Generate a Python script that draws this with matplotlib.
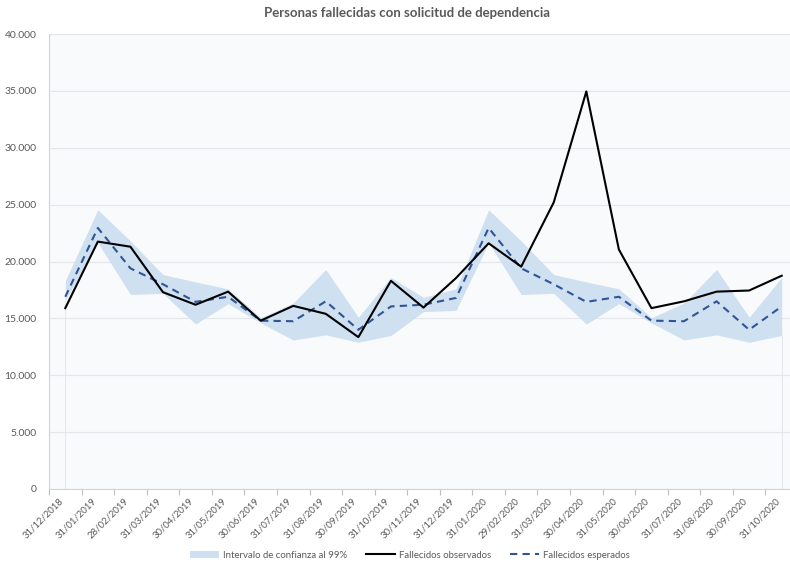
import matplotlib
matplotlib.use("Agg")
import matplotlib.pyplot as plt
from matplotlib.ticker import FuncFormatter, MultipleLocator
import numpy as np

plt.rcParams['font.family'] = ['Lato', 'DejaVu Sans']

fechas = ["31/12/2018", "31/01/2019", "28/02/2019", "31/03/2019", "30/04/2019", "31/05/2019",
          "30/06/2019", "31/07/2019", "31/08/2019", "30/09/2019", "31/10/2019", "30/11/2019",
          "31/12/2019", "31/01/2020", "29/02/2020", "31/03/2020", "30/04/2020", "31/05/2020",
          "30/06/2020", "31/07/2020", "31/08/2020", "30/09/2020", "31/10/2020"]

observados = [15900, 21750, 21300, 17300, 16200, 17350, 14800, 16100, 15400, 13350, 18300, 15950,
              18550, 21600, 19550, 25200, 34950, 21050, 15900, 16500, 17350, 17450, 18750]
esperados = [16900, 22950, 19400, 18000, 16450, 16900, 14800, 14750, 16500, 14000, 16050, 16200,
             16800, 22950, 19400, 18000, 16450, 16900, 14800, 14750, 16500, 14000, 16050]
ic_sup = [18300, 24550, 21800, 18850, 18200, 17600, 15050, 16350, 19300, 15100, 18600, 16850,
          17600, 24550, 21800, 18850, 18200, 17600, 15050, 16350, 19300, 15100, 18600]
ic_inf = [16600, 21650, 17100, 17200, 14500, 16300, 14600, 13100, 13550, 12900, 13500, 15600,
          15700, 21650, 17100, 17200, 14500, 16300, 14600, 13100, 13550, 12900, 13500]

grey = '#595959'
bg = '#F8FAFC'

fig = plt.figure(figsize=(7.9, 5.63), dpi=100)
ax = fig.add_axes([49 / 790, 74 / 563, 749 / 790, 455 / 563])
ax.set_facecolor(bg)

x = np.arange(len(fechas))

# band + lines
ax.fill_between(x, ic_inf, ic_sup, color='#CFE0F1', linewidth=0, label='Intervalo de confianza al 99%', zorder=2)
ax.vlines([x[0], x[-1]], 0, [ic_inf[0], ic_inf[-1]], color='#E6E9EE', linewidth=0.8, zorder=1)
ax.plot(x, observados, color='black', linewidth=1.5, label='Fallecidos observados', zorder=4)
ax.plot(x, esperados, color='#2F5597', linewidth=1.5, linestyle=(0, (3.5, 2.5)),
        label='Fallecidos esperados', zorder=3)

ax.set_xlim(-0.5, len(fechas) - 0.5)
ax.set_ylim(0, 40000)
ax.yaxis.set_major_locator(MultipleLocator(5000))
ax.yaxis.set_major_formatter(FuncFormatter(lambda v, p: f"{int(v):,}".replace(",", ".")))
ax.grid(axis='y', color='#E4E6EA', linewidth=0.8, zorder=0)
ax.set_axisbelow(True)

ax.set_xticks(x)
ax.set_xticklabels(fechas, rotation=45, ha='right', va='top')
ax.set_xticks(np.arange(len(fechas) + 1) - 0.5, minor=True)
ax.tick_params(axis='x', which='major', length=0, pad=5, labelsize=6.9, labelcolor=grey)
ax.tick_params(axis='x', which='minor', length=4, color='#BFBFBF', width=0.8)
ax.tick_params(axis='y', length=0, pad=9, labelsize=7.5, labelcolor=grey)

for s in ['top', 'right']:
    ax.spines[s].set_visible(False)
for s in ['left', 'bottom']:
    ax.spines[s].set_color('#D0D3D8')
    ax.spines[s].set_linewidth(0.8)

fig.text(407 / 790, 1 - 13 / 563, 'Personas fallecidas con solicitud de dependencia',
         ha='center', va='center', fontsize=9.5, fontweight='bold', color=grey)

fig.legend(loc='center', bbox_to_anchor=(410 / 790, 8 / 563), ncol=3, frameon=False,
           fontsize=6.9, labelcolor=grey, handlelength=3.0, handletextpad=0.4, columnspacing=2.0)

fig.savefig('out.png', dpi=100)
